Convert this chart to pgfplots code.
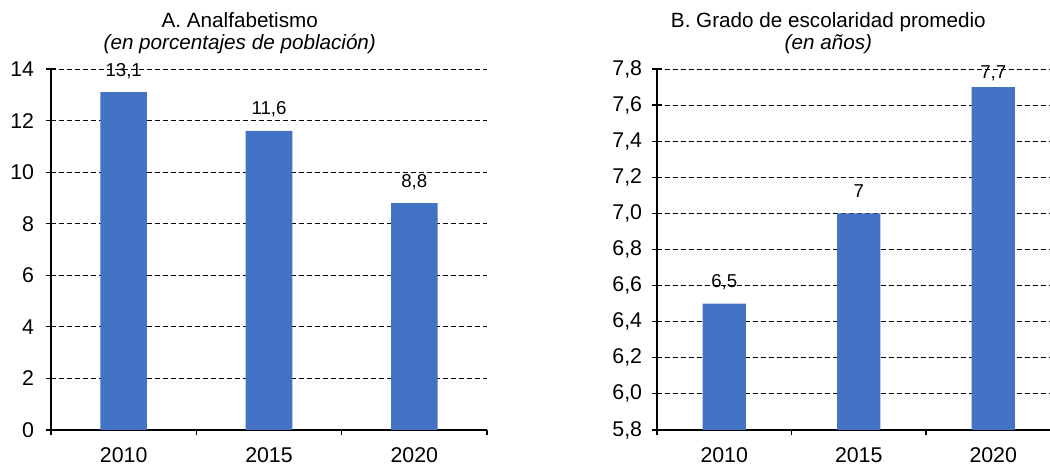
\documentclass[border=0pt]{standalone}
\usepackage{fontspec}
\setmainfont{Liberation Sans}
\usepackage{pgfplots}
\pgfplotsset{compat=1.18}
\usepackage{pgfplotstable}
\definecolor{barblue}{HTML}{4472C4}

\pgfplotstableread{
x y dy
0 13.1 12
1 11.6 12
2 8.8 12
}\tableA
\pgfplotstableread{
x y dy
0 6.5 12
1 7.0 12
2 7.7 6.75
}\tableB

\pgfplotsset{
  mystyle/.style={
    scale only axis,
    height=270.75pt,
    anchor=south west,
    axis x line=bottom, axis y line=left,
    axis line style={-, line width=0.9pt, black},
    ymajorgrids,
    grid style={black, line width=0.6pt, dash pattern=on 3.75pt off 2.25pt},
    tick style={black, line width=0.9pt},
    tick align=center,
    major tick length=8pt,
    xtick={0,1,2},
    xticklabels={2010,2015,2020},
    xtick style={draw=none},
    extra x tick style={tick align=outside, major tick length=4pt, grid=none, xtick style={draw=black}},
    extra x tick labels={},
    xticklabel style={font=\fontsize{16}{16}\selectfont, inner sep=0pt, anchor=north, yshift=-5pt},
    yticklabel style={font=\fontsize{16}{16}\selectfont, inner sep=0pt, anchor=east},
    /pgf/number format/assume math mode=true,
    title style={font=\fontsize{15.5}{17}\selectfont, align=center, anchor=south, inner sep=0pt, yshift=5pt},
    ybar, bar width=0.32,
    nodes near coords={\pgfmathprintnumber[fixed, precision=1, use comma]{\pgfplotspointmeta}},
    visualization depends on={\thisrow{dy} \as \dy},
    every node near coord/.append style={font=\fontsize{14}{14}\selectfont, anchor=base, inner sep=0pt, yshift=\dy pt, black},
  }
}

\begin{document}
\begin{tikzpicture}
\useasboundingbox (0,0) rectangle (787.5pt,351pt);
\begin{axis}[mystyle,
  at={(38.25pt,28.5pt)},
  width=327pt,
  xmin=-0.5, xmax=2.5,
  ymin=0, ymax=14, ytick={0,2,...,14},
  extra x ticks={-0.5,0.5,1.5,2.5},
  yticklabel style={xshift=-8.5pt},
  title={A. Analfabetismo\\\textit{(en porcentajes de población)}},
  title style={at={(rel axis cs:0.433,1)}},
]
\addplot[fill=barblue, draw=none] table[x=x, y=y] {\tableA};
\end{axis}
\begin{axis}[mystyle,
  at={(492.75pt,28.5pt)},
  width=294.75pt,
  xmin=-0.5, xmax=2.422,
  ymin=5.8, ymax=7.8, ytick={5.8,6.0,...,7.8},
  yticklabel={\pgfmathprintnumber[fixed, fixed zerofill, precision=1, use comma]{\tick}},
  yticklabel style={xshift=-7pt},
  extra x ticks={-0.5,0.5,1.5},
  title={B. Grado de escolaridad promedio\\\textit{(en años)}},
  title style={at={(rel axis cs:0.436,1)}},
]
\addplot[fill=barblue, draw=none] table[x=x, y=y] {\tableB};
\end{axis}
\end{tikzpicture}
\end{document}
